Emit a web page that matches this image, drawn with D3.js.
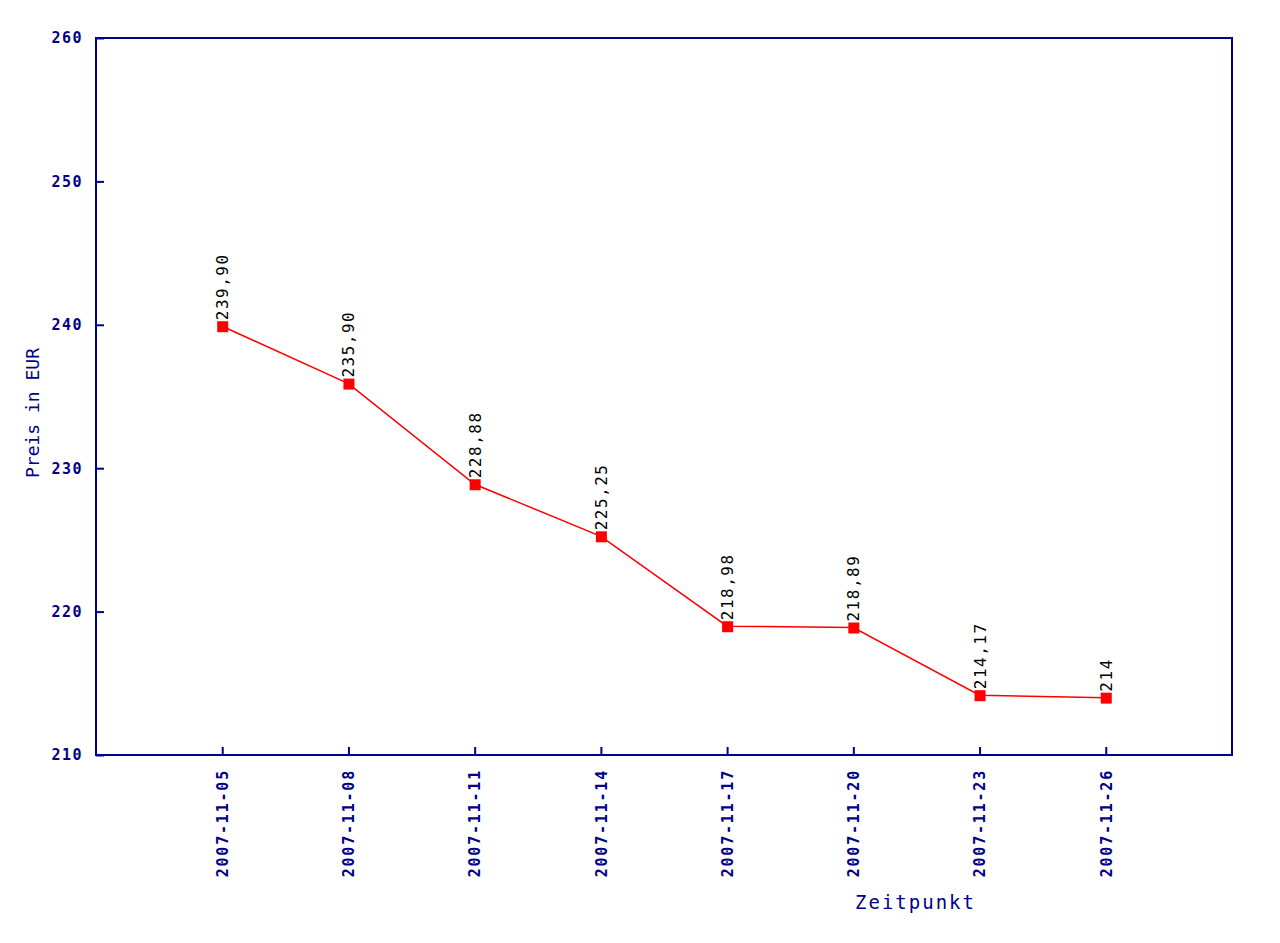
<!DOCTYPE html>
<html>
<head>
<meta charset="utf-8">
<script src="https://cdn.jsdelivr.net/npm/d3@7"></script>
<style>
  body { margin: 0; background: #fff; }
  svg { display: block; }
</style>
</head>
<body>
<div id="chart"></div>
<script>
let dates = ["2007-11-05", "2007-11-08", "2007-11-11", "2007-11-14", "2007-11-17", "2007-11-20", "2007-11-23", "2007-11-26"];
let prices = [239.90, 235.90, 228.88, 225.25, 218.98, 218.89, 214.17, 214];
let priceLabels = ["239,90", "235,90", "228,88", "225,25", "218,98", "218,89", "214,17", "214"];
let yTicks = [210, 220, 230, 240, 250, 260];

let w = 1280;
let h = 943;
let padLeft = 96, padRight = 1232, padTop = 38, padBottom = 755;
let navy = "#000088";
let mono = "'DejaVu Sans Mono', 'Liberation Mono', monospace";

let viz = d3.select("#chart").append("svg")
  .attr("width", w)
  .attr("height", h);

// 10 slots across, points sit at 1..8
let xScale = d3.scaleLinear().domain([0, dates.length + 1]).range([padLeft, padRight]);
let yScale = d3.scaleLinear().domain([210, 260]).range([padBottom, padTop]);

let data = prices.map((p, i) => ({ date: dates[i], price: p, label: priceLabels[i], idx: i + 1 }));

// frame
viz.append("rect")
  .attr("x", padLeft).attr("y", padTop)
  .attr("width", padRight - padLeft).attr("height", padBottom - padTop)
  .attr("fill", "none")
  .attr("stroke", navy)
  .attr("stroke-width", 2);

// y axis (ticks point inward)
let yAxis = d3.axisLeft(yScale).tickValues(yTicks).tickSize(-8).tickPadding(13);
let yAxisGroup = viz.append("g").attr("transform", "translate(" + padLeft + ",0)").call(yAxis);
yAxisGroup.select(".domain").remove();
yAxisGroup.selectAll("line").attr("stroke", navy).attr("stroke-width", 2);
yAxisGroup.selectAll("text")
  .attr("fill", navy)
  .attr("font-family", mono)
  .attr("font-size", "15px")
  .attr("font-weight", "bold")
  .attr("letter-spacing", "1.5px");

// x axis
let xAxis = d3.axisBottom(xScale)
  .tickValues(data.map(d => d.idx))
  .tickFormat(i => dates[i - 1])
  .tickSize(-8);
let xAxisGroup = viz.append("g").attr("transform", "translate(0," + padBottom + ")").call(xAxis);
xAxisGroup.select(".domain").remove();
xAxisGroup.selectAll("line").attr("stroke", navy).attr("stroke-width", 2);
xAxisGroup.selectAll("text")
  .attr("fill", navy)
  .attr("font-family", mono)
  .attr("font-size", "15px")
  .attr("font-weight", "bold")
  .attr("letter-spacing", "1.8px")
  .attr("transform", "rotate(-90)")
  .attr("text-anchor", "end")
  .attr("x", -14)
  .attr("y", 0)
  .attr("dy", "0.35em");

// axis titles
viz.append("text")
  .text("Preis in EUR")
  .attr("transform", "translate(39,478) rotate(-90)")
  .attr("fill", navy)
  .attr("font-family", mono)
  .attr("font-size", "18px")
  .attr("letter-spacing", "0px");

viz.append("text")
  .text("Zeitpunkt")
  .attr("x", 855)
  .attr("y", 909)
  .attr("fill", navy)
  .attr("font-family", mono)
  .attr("font-size", "19px")
  .attr("letter-spacing", "2px");

// line
let line = d3.line().x(d => xScale(d.idx)).y(d => yScale(d.price));
viz.append("path")
  .datum(data)
  .attr("d", line)
  .attr("fill", "none")
  .attr("stroke", "red")
  .attr("stroke-width", 1.5);

// markers
viz.selectAll(".marker").data(data).enter()
  .append("rect")
  .attr("class", "marker")
  .attr("x", d => xScale(d.idx) - 5)
  .attr("y", d => yScale(d.price) - 5)
  .attr("width", 11)
  .attr("height", 11)
  .attr("fill", "red");

// value labels
viz.selectAll(".vlabel").data(data).enter()
  .append("text")
  .attr("class", "vlabel")
  .text(d => d.label)
  .attr("transform", d => "translate(" + (xScale(d.idx) + 6) + "," + (yScale(d.price) - 6) + ") rotate(-90)")
  .attr("fill", "black")
  .attr("font-family", mono)
  .attr("font-size", "16px")
  .attr("letter-spacing", "1.5px");
</script>
</body>
</html>
